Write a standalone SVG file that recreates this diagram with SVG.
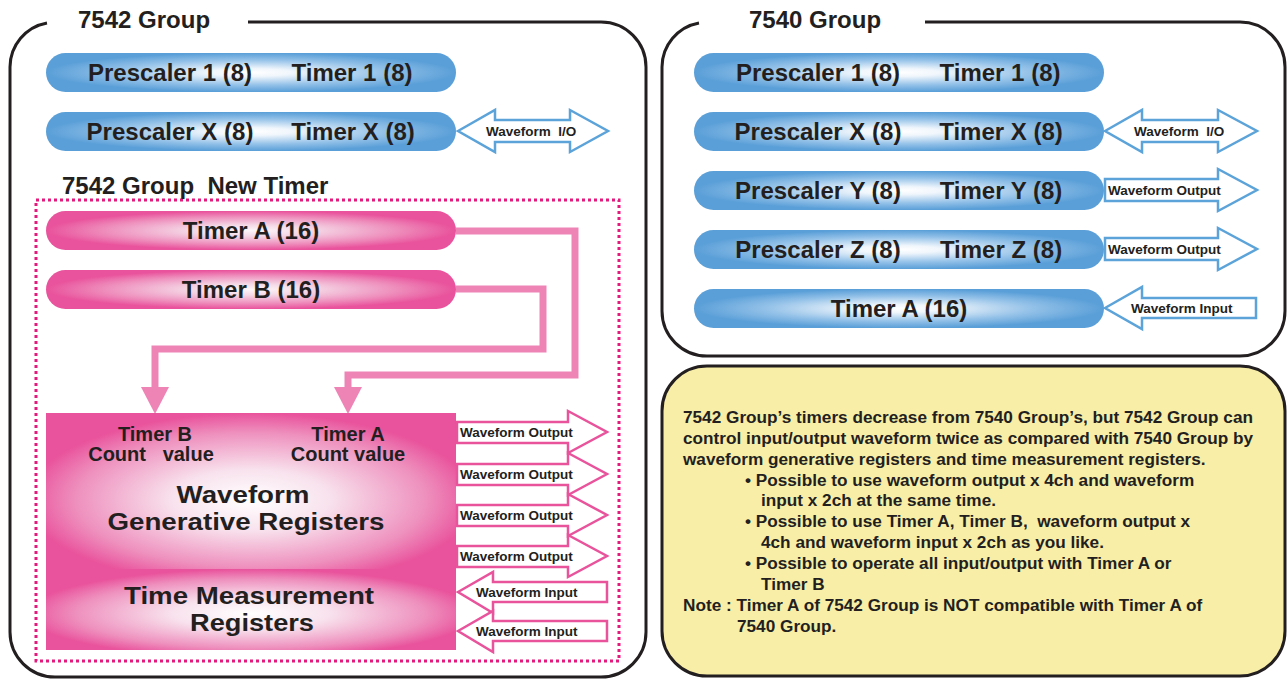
<svg xmlns="http://www.w3.org/2000/svg" width="1288" height="679" viewBox="0 0 1288 679">
<defs>
<radialGradient id="gBlue" cx="0.5" cy="0.5" r="0.5">
<stop offset="0" stop-color="#ffffff"/>
<stop offset="0.2" stop-color="#f0f6fc"/>
<stop offset="0.65" stop-color="#93c1e8"/>
<stop offset="1" stop-color="#5a9fd8"/>
</radialGradient>
<radialGradient id="gPink" cx="0.5" cy="0.5" r="0.5">
<stop offset="0" stop-color="#fdf6f9"/>
<stop offset="0.3" stop-color="#f4d6e5"/>
<stop offset="0.72" stop-color="#ee8cbb"/>
<stop offset="1" stop-color="#e9529c"/>
</radialGradient>
<radialGradient id="gReg" cx="0.5" cy="0.55" r="0.55">
<stop offset="0" stop-color="#ffffff"/>
<stop offset="0.35" stop-color="#f8e2ed"/>
<stop offset="0.78" stop-color="#ee8fbd"/>
<stop offset="1" stop-color="#e9529c"/>
</radialGradient>
<style>
text{font-family:"Liberation Sans",Arial,sans-serif;font-weight:bold;fill:#231f20;white-space:pre}
.title{font-size:24px}
.pill{font-size:24px;text-anchor:middle}
.small{font-size:13.5px}
.reg{font-size:20px;text-anchor:middle}
.big{font-size:23px;text-anchor:middle}
.note{font-size:17.2px}
.frame{fill:none;stroke:#231f20;stroke-width:3}
.barrow{fill:#ffffff;stroke:#5ba3d9;stroke-width:2.5;stroke-linejoin:miter}
.parrow{fill:#ffffff;stroke:#e8539c;stroke-width:2.5;stroke-linejoin:miter}
.conn{fill:none;stroke:#ee84b5;stroke-width:7;stroke-linejoin:miter}
.head{fill:#ee84b5}
</style>
</defs>
<rect width="1288" height="679" fill="#ffffff"/>

<g id="group7542">
<path class="frame" d="M 248 22 H 601 A 45 45 0 0 1 646 67 V 632 A 45 45 0 0 1 601 677 H 55 A 45 45 0 0 1 10 632 V 67 A 45 45 0 0 1 47 23"/>
<text class="title" x="78" y="28">7542 Group</text>
</g>

<g id="group7540">
<path class="frame" d="M 925 22 H 1240 A 45 45 0 0 1 1285 67 V 311 A 45 45 0 0 1 1240 356 H 707 A 45 45 0 0 1 662 311 V 67 A 45 45 0 0 1 699 23"/>
<text class="title" x="749" y="28">7540 Group</text>
</g>

<g id="newtimer">
<rect x="36" y="200" width="583" height="461" fill="none" stroke="#e4197d" stroke-width="3" stroke-dasharray="3 3"/>
<text class="title" x="62" y="194">7542 Group  New Timer</text>
</g>

<g id="L-pre1">
<rect x="46" y="53" width="410" height="39" rx="19.5" fill="url(#gBlue)"/>
<text class="pill" x="170" y="81">Prescaler 1 (8)</text>
<text class="pill" x="352" y="81">Timer 1 (8)</text>
</g>
<g id="L-preX">
<rect x="46" y="112" width="410" height="39" rx="19.5" fill="url(#gBlue)"/>
<text class="pill" x="170" y="140">Prescaler X (8)</text>
<text class="pill" x="353" y="140">Timer X (8)</text>
</g>
<g id="L-io">
<polygon class="barrow" points="458,131 495,110 495,120 570,120 570,110 608,131 570,152 570,142 495,142 495,152"/>
<text class="small" x="486" y="136">Waveform  I/O</text>
</g>

<g id="L-timerA">
<rect x="46" y="211" width="410" height="39" rx="19.5" fill="url(#gPink)"/>
<text class="pill" x="251" y="239">Timer A (16)</text>
</g>
<g id="L-timerB">
<rect x="46" y="270" width="410" height="39" rx="19.5" fill="url(#gPink)"/>
<text class="pill" x="251" y="298">Timer B (16)</text>
</g>

<g id="connectors">
<polyline class="conn" points="456,231 575,231 575,375 348,375 348,390"/>
<polygon class="head" points="334,387 362,387 348,414"/>
<polyline class="conn" points="456,289 543,289 543,349 155,349 155,390"/>
<polygon class="head" points="141,387 169,387 155,414"/>
</g>

<g id="registers">
<rect x="46" y="413" width="410" height="158" fill="url(#gReg)"/>
<rect x="46" y="569" width="410" height="81" fill="url(#gReg)"/>
<text class="reg" x="155" y="441">Timer B</text>
<text class="reg" x="151" y="461">Count   value</text>
<text class="reg" x="348" y="441">Timer A</text>
<text class="reg" x="348" y="461">Count value</text>
<text class="big" x="243" y="503" textLength="133" lengthAdjust="spacingAndGlyphs">Waveform</text>
<text class="big" x="246" y="530" textLength="277" lengthAdjust="spacingAndGlyphs">Generative Registers</text>
<text class="big" x="249" y="604" textLength="250" lengthAdjust="spacingAndGlyphs">Time Measurement</text>
<text class="big" x="252" y="631" textLength="124" lengthAdjust="spacingAndGlyphs">Registers</text>
</g>

<g id="L-out1">
<polygon class="parrow" points="457,422 568,422 568,411 607,432 568,453 568,443 457,443"/>
<text class="small" x="460" y="437">Waveform Output</text>
</g>
<g id="L-out2">
<polygon class="parrow" points="457,464 568,464 568,453 607,474 568,495 568,485 457,485"/>
<text class="small" x="460" y="479">Waveform Output</text>
</g>
<g id="L-out3">
<polygon class="parrow" points="457,505 568,505 568,494 607,515 568,536 568,526 457,526"/>
<text class="small" x="460" y="520">Waveform Output</text>
</g>
<g id="L-out4">
<polygon class="parrow" points="457,546 568,546 568,535 607,556 568,577 568,567 457,567"/>
<text class="small" x="460" y="561">Waveform Output</text>
</g>
<g id="L-in1">
<polygon class="parrow" points="458,592 493,572 493,582 607,582 607,602 493,602 493,613"/>
<text class="small" x="476" y="597">Waveform Input</text>
</g>
<g id="L-in2">
<polygon class="parrow" points="458,631 493,611 493,621 607,621 607,641 493,641 493,652"/>
<text class="small" x="476" y="636">Waveform Input</text>
</g>

<g id="R-pre1">
<rect x="694" y="53" width="410" height="39" rx="19.5" fill="url(#gBlue)"/>
<text class="pill" x="818" y="81">Prescaler 1 (8)</text>
<text class="pill" x="1000" y="81">Timer 1 (8)</text>
</g>
<g id="R-preX">
<rect x="694" y="112" width="410" height="39" rx="19.5" fill="url(#gBlue)"/>
<text class="pill" x="818" y="140">Prescaler X (8)</text>
<text class="pill" x="1001" y="140">Timer X (8)</text>
</g>
<g id="R-preY">
<rect x="694" y="171" width="410" height="39" rx="19.5" fill="url(#gBlue)"/>
<text class="pill" x="818" y="199">Prescaler Y (8)</text>
<text class="pill" x="1001" y="199">Timer Y (8)</text>
</g>
<g id="R-preZ">
<rect x="694" y="230" width="410" height="39" rx="19.5" fill="url(#gBlue)"/>
<text class="pill" x="818" y="258">Prescaler Z (8)</text>
<text class="pill" x="1001" y="258">Timer Z (8)</text>
</g>
<g id="R-timerA">
<rect x="694" y="289" width="410" height="39" rx="19.5" fill="url(#gBlue)"/>
<text class="pill" x="899" y="317">Timer A (16)</text>
</g>
<g id="R-io">
<polygon class="barrow" points="1105,131 1142,110 1142,120 1218,120 1218,110 1257,131 1218,152 1218,142 1142,142 1142,152"/>
<text class="small" x="1134" y="136">Waveform  I/O</text>
</g>
<g id="R-outY">
<polygon class="barrow" points="1105,179 1218,179 1218,169 1257,190 1218,211 1218,201 1105,201"/>
<text class="small" x="1108" y="195">Waveform Output</text>
</g>
<g id="R-outZ">
<polygon class="barrow" points="1105,238 1218,238 1218,228 1257,249 1218,270 1218,260 1105,260"/>
<text class="small" x="1108" y="254">Waveform Output</text>
</g>
<g id="R-in">
<polygon class="barrow" points="1105,308 1142,287 1142,298 1256,298 1256,318 1142,318 1142,329"/>
<text class="small" x="1131" y="313">Waveform Input</text>
</g>

<g id="note">
<rect x="662" y="366" width="623" height="310" rx="45" fill="#f8eea7" stroke="#231f20" stroke-width="3"/>
<text class="note" x="683" y="423">7542 Group’s timers decrease from 7540 Group’s, but 7542 Group can</text>
<text class="note" x="683" y="444">control input/output waveform twice as compared with 7540 Group by</text>
<text class="note" x="683" y="465">waveform generative registers and time measurement registers.</text>
<text class="note" x="745" y="486">• Possible to use waveform output x 4ch and waveform</text>
<text class="note" x="761" y="506">input x 2ch at the same time.</text>
<text class="note" x="745" y="527">• Possible to use Timer A, Timer B,  waveform output x</text>
<text class="note" x="761" y="548">4ch and waveform input x 2ch as you like.</text>
<text class="note" x="745" y="569">• Possible to operate all input/output with Timer A or</text>
<text class="note" x="761" y="590">Timer B</text>
<text class="note" x="683" y="611">Note : Timer A of 7542 Group is NOT compatible with Timer A of</text>
<text class="note" x="737" y="632">7540 Group.</text>
</g>
</svg>
